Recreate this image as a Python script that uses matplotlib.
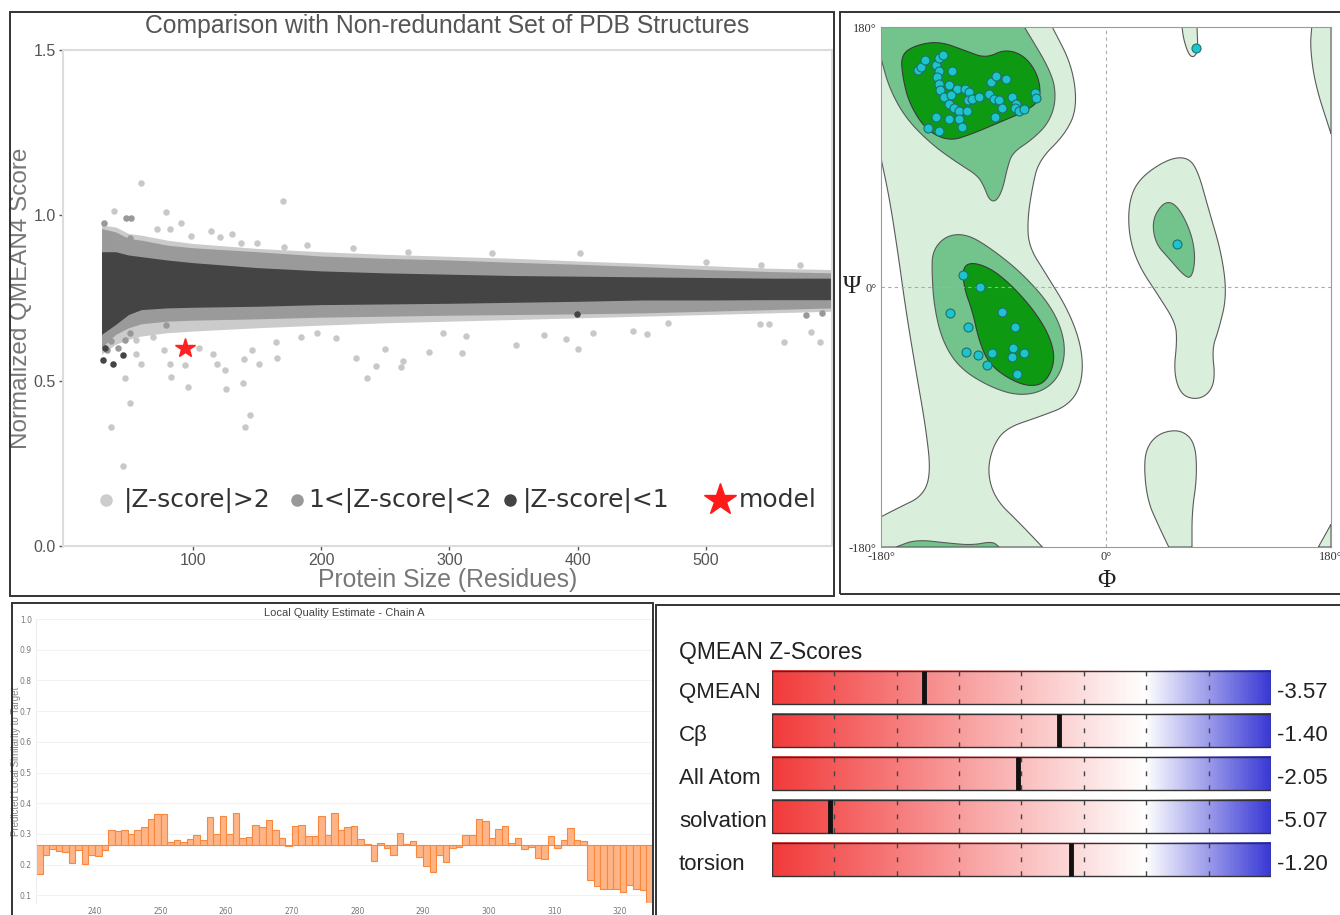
import numpy as np
import matplotlib
matplotlib.use("Agg")
import matplotlib.pyplot as plt
from matplotlib.patches import Polygon, Rectangle
from matplotlib.colors import LinearSegmentedColormap

# ---------------- data: QMEAN comparison scatter ----------------
band_size = [29, 40, 50, 60, 80, 100, 150, 200, 250, 300, 350, 400, 450, 500, 550, 598]
dark_lo = [0.64, 0.67, 0.70, 0.715, 0.72, 0.722, 0.725, 0.73, 0.732, 0.734, 0.737, 0.74, 0.744, 0.744, 0.745, 0.745]
dark_hi = [0.89, 0.89, 0.88, 0.875, 0.865, 0.857, 0.842, 0.832, 0.826, 0.822, 0.818, 0.816, 0.814, 0.812, 0.81, 0.81]
mid_lo = [0.60, 0.64, 0.66, 0.672, 0.68, 0.683, 0.687, 0.692, 0.695, 0.698, 0.70, 0.702, 0.705, 0.71, 0.715, 0.72]
mid_hi = [0.96, 0.95, 0.93, 0.925, 0.91, 0.902, 0.89, 0.877, 0.87, 0.865, 0.858, 0.852, 0.845, 0.836, 0.83, 0.826]
light_lo = [0.58, 0.61, 0.625, 0.635, 0.645, 0.65, 0.66, 0.668, 0.675, 0.68, 0.685, 0.69, 0.695, 0.70, 0.705, 0.71]
light_hi = [0.97, 0.965, 0.945, 0.94, 0.925, 0.915, 0.90, 0.89, 0.882, 0.876, 0.87, 0.862, 0.855, 0.848, 0.84, 0.836]

light_x = [60, 170, 39, 79, 91, 72, 82, 114, 131, 99, 121, 138, 150, 171, 189, 225, 268,
           333, 402, 500, 543, 573,
           60, 47, 51, 36, 46, 82, 83, 94, 96, 119, 125, 126, 139, 145, 141, 140, 152, 166,
           146, 116, 105, 78, 69, 56, 56, 227, 236, 243, 262, 264, 284, 250, 184, 165, 197,
           212, 310, 352, 400, 374, 391, 412, 443, 454, 470, 561, 582, 589, 542, 549, 295, 313]
light_y = [1.097, 1.044, 1.014, 1.011, 0.978, 0.958, 0.960, 0.953, 0.943, 0.937, 0.933, 0.915,
           0.917, 0.903, 0.910, 0.900, 0.890,
           0.887, 0.887, 0.860, 0.849, 0.849,
           0.550, 0.507, 0.431, 0.361, 0.242, 0.550, 0.510, 0.547, 0.482, 0.550, 0.532, 0.474,
           0.492, 0.396, 0.361, 0.567, 0.550, 0.570, 0.592, 0.582, 0.600, 0.592, 0.633, 0.582,
           0.622, 0.570, 0.507, 0.544, 0.540, 0.560, 0.588, 0.595, 0.633, 0.618, 0.645, 0.628,
           0.585, 0.608, 0.596, 0.638, 0.626, 0.645, 0.651, 0.641, 0.675, 0.618, 0.648, 0.618,
           0.672, 0.672, 0.643, 0.635]
mid_x = [48, 52, 51, 31, 33, 35, 33, 51, 47, 79, 578, 590, 36, 42]
mid_y = [0.991, 0.991, 0.930, 0.976, 0.935, 0.905, 0.592, 0.643, 0.622, 0.668, 0.699, 0.705, 0.62, 0.60]
dark_x = [30, 38, 46, 399, 32]
dark_y = [0.562, 0.549, 0.577, 0.702, 0.60]
model_size = 94
model_score = 0.599
legend_labels = ["|Z-score|>2", "1<|Z-score|<2", "|Z-score|<1", "model"]

# ---------------- data: Ramachandran plot ----------------
light_regions = [
    [(-180, 180), (-43, 180), (-27, 153.1), (-23, 124.4), (-32.3, 106.1), (-53.6, 87.8),
     (-58.9, 69.5), (-62.9, 46.0), (-61.6, 27.7), (-48.3, 9.4), (-29.7, -16.7), (-19, -42.8),
     (-19, -66.4), (-29.7, -82.0), (-53.6, -89.9), (-80.2, -97.7), (-90.9, -110.8),
     (-94.9, -129.1), (-88.2, -147.3), (-69.6, -163.0), (-50.9, -180), (-180, -180),
     (-180, -159.1), (-165.4, -152.6), (-146.7, -144.7), (-140.1, -129.1), (-144.1, -97.7),
     (-152, -58.5), (-160, -16.7), (-166.7, 25.1), (-173.3, 61.7), (-180, 89.1)],
    [(18.2, 59.0), (26.2, 74.7), (47.5, 87.8), (63.5, 90.4), (72.8, 82.6), (82.1, 53.8),
     (92.7, 22.5), (96.7, -6.3), (90.1, -29.8), (84.8, -42.8), (87.4, -63.7), (82.1, -74.2),
     (71.5, -78.1), (59.5, -74.2), (54.2, -58.5), (56.8, -37.6), (55.5, -24.6), (42.2, -6.3),
     (26.2, 14.6), (18.2, 35.5)],
    [(34.2, -108.2), (44.9, -100.3), (60.8, -99.0), (71.5, -108.2), (72.8, -131.7),
     (68.8, -155.2), (68.8, -180), (50.2, -180), (42.2, -165.6), (32.9, -147.3), (30.2, -121.2)],
    [(60.8, 180), (72.8, 180), (73.6, 163.5), (70.1, 158.8), (66.1, 160.9), (62.1, 171.4)],
    [(164.6, 180), (163.3, 166.2), (167.3, 140.0), (180, 106.1), (180, 180)],
    [(180, -164.3), (169.9, -180), (180, -180)],
]
mid_regions = [
    [(-180, 180), (-65.3, 180), (-43, 147.9), (-39.8, 129.6), (-45.6, 113.9), (-58.9, 102.2),
     (-74.9, 93.0), (-78.9, 82.6), (-82.9, 66.9), (-88.2, 59.0), (-93.5, 60.4), (-97.5, 69.5),
     (-102.8, 77.3), (-117.5, 85.2), (-138.8, 98.2), (-160, 116.5), (-173.3, 137.4), (-180, 158.3)],
    [(-138.8, 25.1), (-128.1, 35.5), (-112.1, 36.8), (-93.5, 27.7), (-66.9, 9.4), (-43, -14.1),
     (-32.3, -37.6), (-35, -58.5), (-48.3, -71.6), (-69.6, -75.5), (-93.5, -69.0),
     (-117.5, -55.9), (-130.8, -37.6), (-137.4, -14.1), (-139.3, 9.4)],
    [(36.9, 46.0), (44.9, 57.7), (52.8, 59.0), (60.8, 51.2), (68.8, 35.5), (71.5, 19.9),
     (68.8, 6.8), (63.5, 6.8), (50.2, 19.9), (39.5, 30.3)],
    [(-168, -180), (-152, -174.8), (-125.4, -177.4), (-106.8, -178.7), (-90.9, -176.1), (-85.5, -180)],
]
dark_regions = [
    [(-164, 160.9), (-152, 167.5), (-133.4, 170.1), (-112.1, 163.5), (-96.2, 158.3),
     (-80.2, 164.8), (-64.2, 159.6), (-53.6, 145.3), (-52.3, 129.6), (-64.2, 121.7),
     (-85.5, 113.9), (-106.8, 106.1), (-125.4, 100.8), (-144.1, 108.7), (-157.4, 127.0),
     (-162.7, 145.3)],
    [(-114.8, 14.6), (-104.2, 17.2), (-85.5, 9.4), (-61.6, -11.5), (-45.6, -32.4),
     (-40.3, -50.7), (-48.3, -66.4), (-61.6, -69.0), (-77.6, -63.7), (-93.5, -53.3),
     (-101.5, -37.6), (-106.8, -16.7), (-113.5, -1.0)],
]
phi = [-150.7, -148.1, -144.6, -136.1, -134.0, -130.8, -133.4, -135.3, -134.0, -132.6, -129.4,
       -125.4, -123.3, -119.6, -125.4, -124.1, -121.5, -117.5, -112.7, -109.5, -110.8, -107.6,
       -101.5, -111.3, -136.1, -125.4, -118.0, -115.6, -142.7, -133.4, -91.7, -87.7, -80.2,
       -93.5, -89.5, -85.5, -82.9, -89.0, -74.9, -72.2, -72.8, -69.6, -65.3, -57.1, -56.3,
       72.3, 56.8,
       -114.3, -100.7, -124.7, -110.8, -83.1, -72.8, -111.9, -102.6, -91.4, -74.1, -65.3,
       -75.4, -95.6, -71.4]
psi = [150.5, 152.6, 157.0, 153.6, 158.3, 160.9, 149.2, 145.3, 140.6, 136.1, 131.7,
       140.0, 149.7, 137.4, 127.0, 132.7, 123.8, 121.7, 136.9, 135.3, 129.6, 130.1,
       131.7, 121.7, 117.8, 116.5, 116.5, 110.8, 110.0, 107.9, 142.1, 145.8, 143.7,
       133.5, 130.4, 129.6, 123.8, 117.8, 131.7, 127.0, 123.8, 121.7, 123.0, 134.3, 130.9,
       165.4, 29.5,
       8.6, 0.0, -18.0, -28.0, -17.5, -27.4, -44.9, -46.8, -45.7, -42.3, -45.5,
       -48.6, -54.3, -60.4]

# ---------------- data: local quality ----------------
residues = np.arange(231, 325)
local_score = [0.171, 0.230, 0.252, 0.245, 0.240, 0.205, 0.247, 0.203, 0.230, 0.227,
               0.247, 0.314, 0.310, 0.312, 0.301, 0.314, 0.321, 0.347, 0.366, 0.364,
               0.274, 0.279, 0.275, 0.284, 0.296, 0.279, 0.355, 0.301, 0.358, 0.299,
               0.368, 0.288, 0.290, 0.330, 0.321, 0.345, 0.312, 0.288, 0.261, 0.327,
               0.328, 0.292, 0.292, 0.358, 0.295, 0.368, 0.314, 0.323, 0.325, 0.284,
               0.268, 0.211, 0.270, 0.254, 0.231, 0.304, 0.268, 0.277, 0.225, 0.195,
               0.176, 0.230, 0.208, 0.254, 0.258, 0.298, 0.298, 0.350, 0.342, 0.288,
               0.315, 0.326, 0.270, 0.287, 0.252, 0.257, 0.222, 0.218, 0.292, 0.255,
               0.279, 0.318, 0.281, 0.277, 0.149, 0.129, 0.121, 0.121, 0.121, 0.112,
               0.133, 0.121, 0.118, 0.073]
local_baseline = 0.265

# ---------------- data: Z-scores ----------------
z_names = ["QMEAN", "Cβ", "All Atom", "solvation", "torsion"]
z_values = [-3.57, -1.40, -2.05, -5.07, -1.20]

W, H = 1340, 915
SANS = ["Liberation Sans", "DejaVu Sans"]
SERIF = ["Liberation Serif", "DejaVu Serif"]


def box(x0, y0, x1, y1):
    return [x0 / W, 1 - y1 / H, (x1 - x0) / W, (y1 - y0) / H]


def smooth(poly, n=3):
    # chaikin corner cutting, keeps points that sit on the plot border
    pts = np.asarray(poly, float)
    for _ in range(n):
        fixed = (np.abs(pts) >= 179.99).any(axis=1)
        out = []
        for i in range(len(pts)):
            p = pts[i]
            q = pts[(i + 1) % len(pts)]
            if fixed[i]:
                out.append(p)
            out.append(0.75 * p + 0.25 * q)
            out.append(0.25 * p + 0.75 * q)
        pts = np.array(out)
    return pts


fig = plt.figure(figsize=(W / 100, H / 100), dpi=100)

# panel frames
for x0, y0, x1, y1 in [(10, 12, 834, 596), (840, 12, 1350, 594), (12, 603, 653, 925), (656, 605, 1350, 925)]:
    fig.add_artist(Rectangle((x0 / W, 1 - y1 / H), (x1 - x0) / W, (y1 - y0) / H,
                             transform=fig.transFigure, fill=False, ec="#333333", lw=1.4))

# ---------- scatter panel ----------
ax = fig.add_axes(box(63, 50, 832, 546))
ax.fill_between(band_size, light_lo, light_hi, color="#cbcbcb", lw=0)
ax.fill_between(band_size, mid_lo, mid_hi, color="#9a9a9a", lw=0)
ax.fill_between(band_size, dark_lo, dark_hi, color="#444444", lw=0)
ax.scatter(light_x, light_y, s=22, color="#c8c8c8", lw=0)
ax.scatter(mid_x, mid_y, s=22, color="#999999", lw=0)
ax.scatter(dark_x, dark_y, s=22, color="#444444", lw=0)
ax.plot([model_size], [model_score], marker="*", ms=15, color="#ff2222", ls="")
ax.set_xlim(-1, 598)
ax.set_ylim(0, 1.5)
ax.set_xticks([100, 200, 300, 400, 500])
ax.set_yticks([0.0, 0.5, 1.0, 1.5])
ax.set_yticklabels(["0.0", "0.5", "1.0", "1.5"])
for sp in ax.spines.values():
    sp.set_color("#dcdcdc")
    sp.set_linewidth(1.5)
ax.tick_params(colors="#555555", labelsize=11.5, length=3, width=1, pad=2)
for t in ax.get_xticklabels() + ax.get_yticklabels():
    t.set_family(SANS)
ax.text(0.5, 1.048, "Comparison with Non-redundant Set of PDB Structures", transform=ax.transAxes,
        family=SANS, fontsize=17.8, color="#555555", ha="center", va="center")
ax.set_ylabel("Normalized QMEAN4 Score", family=SANS, fontsize=17.5, color="#777777")
ax.yaxis.set_label_coords(-0.040, 0.5)
ax.set_xlabel("Protein Size (Residues)", family=SANS, fontsize=17.8, color="#777777", labelpad=0)

# legend laid out by hand (axes fractions)
leg_y = 0.0927
leg_marks = [(0.0559, "o", "#cccccc", 8), (0.3043, "o", "#999999", 8),
             (0.5813, "o", "#444444", 8), (0.8544, "*", "#ff1a1a", 24)]
leg_text_x = [0.0793, 0.3186, 0.5982, 0.8791]
for (mx, mk, mc, ms), tx, lab in zip(leg_marks, leg_text_x, legend_labels):
    ax.plot([mx], [leg_y], marker=mk, color=mc, ms=ms, ls="", transform=ax.transAxes, clip_on=False)
    ax.text(tx, leg_y, lab, transform=ax.transAxes, fontsize=18, color="#333333",
            family="DejaVu Sans", ha="left", va="center")

# ---------- Ramachandran panel ----------
ra = fig.add_axes(box(881, 27, 1331, 547))
for reg in light_regions:
    ra.add_patch(Polygon(smooth(reg), closed=True, fc="#d9efdb", ec="#5a5a5a", lw=0.8))
for reg in mid_regions:
    ra.add_patch(Polygon(smooth(reg), closed=True, fc="#72c48c", ec="#5a5a5a", lw=0.8))
for reg in dark_regions:
    ra.add_patch(Polygon(smooth(reg), closed=True, fc="#0d9a12", ec="#3a3a3a", lw=0.8))
ra.axvline(0, color="#aaaaaa", ls=(0, (3, 3)), lw=0.8)
ra.axhline(0, color="#aaaaaa", ls=(0, (3, 3)), lw=0.8)
ra.scatter(phi, psi, s=42, color="#1cc4cc", edgecolors="#1f6f73", lw=0.8, zorder=5)
ra.set_xlim(-180, 180)
ra.set_ylim(-180, 180)
ra.set_xticks([-180, 0, 180])
ra.set_xticklabels(["-180°", "0°", "180°"])
ra.set_yticks([-180, 0, 180])
ra.set_yticklabels(["-180°", "0°", "180°"])
ra.tick_params(length=0, labelsize=9, colors="#333333", pad=3)
for t in ra.get_xticklabels() + ra.get_yticklabels():
    t.set_family(SERIF)
for sp in ra.spines.values():
    sp.set_color("#999999")
    sp.set_linewidth(0.8)
ra.text(-0.065, 0.5, "Ψ", transform=ra.transAxes, family=SERIF, fontsize=18,
        ha="center", va="center", color="#222222")
ra.text(0.5, -0.065, "Φ", transform=ra.transAxes, family=SERIF, fontsize=18,
        ha="center", va="center", color="#222222")

# ---------- local quality panel ----------
lq = fig.add_axes(box(36, 619, 652, 903))
lq.bar(residues, np.array(local_score) - local_baseline, bottom=local_baseline, width=1.0,
       align="edge", color="#ffb486", edgecolor="#f7883e", lw=0.8)
lq.set_xlim(231, 324.9)
lq.set_ylim(0.075, 1.0)
lq.set_xticks([240, 250, 260, 270, 280, 290, 300, 310, 320])
lq.set_yticks([0.1, 0.2, 0.3, 0.4, 0.5, 0.6, 0.7, 0.8, 0.9, 1.0])
lq.yaxis.grid(True, color="#f2f2f2", lw=0.8)
lq.set_axisbelow(True)
lq.tick_params(length=0, labelsize=5.5, colors="#777777", pad=3)
for sp in ["top", "right", "bottom"]:
    lq.spines[sp].set_visible(False)
lq.spines["left"].set_color("#eeeeee")
lq.set_title("Local Quality Estimate - Chain A", family=SANS, fontsize=8, color="#444444", pad=2)
lq.set_ylabel("Predicted Local Similarity to Target", family=SANS, fontsize=7,
              color="#888888", labelpad=-1)
lq.set_xlabel("Residue Number", family=SANS, fontsize=7, color="#888888", labelpad=2)

# ---------- Z-score panel ----------
zs = fig.add_axes(box(772, 666, 1271, 881))
zcmap = LinearSegmentedColormap.from_list("qz", [(0, "#f23a3a"), (0.75, "#ffffff"), (1, "#3a3ad6")])
grad = np.linspace(-6, 2, 400)[None, :]
for i, (name, val) in enumerate(zip(z_names, z_values)):
    zs.imshow(grad, cmap=zcmap, vmin=-6, vmax=2, aspect="auto",
              extent=(-6, 2, i + 0.385, i - 0.385), interpolation="bilinear")
    zs.add_patch(Rectangle((-6, i - 0.385), 8, 0.77, fill=False, ec="#333333", lw=1.0))
    for tk in range(-5, 2):
        zs.plot([tk, tk], [i - 0.385, i + 0.385], color="#444444", lw=1.0, ls=(0, (3.5, 6.5)))
    zs.plot([val, val], [i - 0.385, i + 0.385], color="#111111", lw=3.5, solid_capstyle="butt")
    zs.text(-7.49, i + 0.12, name, family=SANS, fontsize=16, color="#222222", ha="left", va="center")
    zs.text(2.09, i + 0.12, f"{val:.2f}", family=SANS, fontsize=16, color="#222222", ha="left", va="center")
zs.text(-7.49, -0.82, "QMEAN Z-Scores", family=SANS, fontsize=16.5, color="#222222", ha="left", va="center")
zs.set_xlim(-6, 2)
zs.set_ylim(4.5, -0.5)
zs.axis("off")

fig.savefig("out.png", dpi=100)
